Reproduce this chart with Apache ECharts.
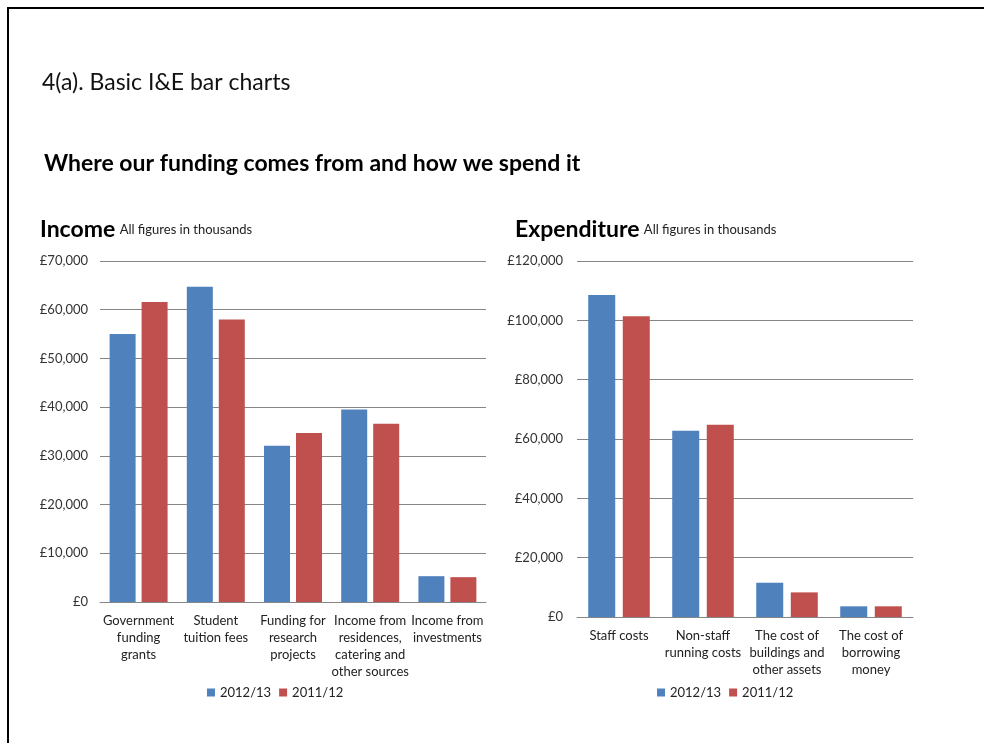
<!DOCTYPE html>
<html>
<head>
<meta charset="utf-8">
<script src="https://cdn.jsdelivr.net/npm/echarts@6/dist/echarts.min.js"></script>
<style>
html,body{margin:0;padding:0;background:#fff;}
#c{width:984px;height:743px;}
</style>
</head>
<body>
<div id="c"></div>
<script>
var seriesNames = ['2012/13', '2011/12'];
var incomeCategories = ['Government\nfunding\ngrants', 'Student\ntuition fees', 'Funding for\nresearch\nprojects', 'Income from\nresidences,\ncatering and\nother sources', 'Income from\ninvestments'];
var income2012 = [55000, 64700, 32100, 39500, 5300];
var income2011 = [61600, 58000, 34700, 36600, 5100];
var expCategories = ['Staff costs', 'Non-staff\nrunning costs', 'The cost of\nbuildings and\nother assets', 'The cost of\nborrowing\nmoney'];
var exp2012 = [108500, 62800, 11550, 3600];
var exp2011 = [101400, 64800, 8300, 3600];

var FONT = 'Lato, "Open Sans", sans-serif';
var BLUE = '#4F81BD', RED = '#C0504D';
var chart = echarts.init(document.getElementById('c'), null, {renderer: 'canvas'});
function money(v){ return '£' + v.toLocaleString('en-GB'); }
var axisLabel = {color: '#333', fontFamily: FONT, fontSize: 13};
var catLabel = {color: '#222', fontFamily: FONT, fontSize: 13, lineHeight: 17, interval: 0, margin: 10};
var legendText = {fontFamily: FONT, fontSize: 13, color: '#222'};
chart.setOption({
  animation: false,
  textStyle: {fontFamily: FONT},
  title: [
    {text: '4(a). Basic I&E bar charts', left: 42, top: 71, padding: 0, textStyle: {fontFamily: FONT, fontSize: 23, fontWeight: 'normal', color: '#111'}},
    {text: 'Where our funding comes from and how we spend it', left: 44, top: 152, padding: 0, textStyle: {fontFamily: FONT, fontSize: 23, fontWeight: 'bold', color: '#000'}},
    {text: '{b|Income} {s|All figures in thousands}', left: 40, top: 218, padding: 0, textStyle: {rich: {b: {fontFamily: FONT, fontSize: 23, fontWeight: 'bold', color: '#000'}, s: {fontFamily: FONT, fontSize: 13, fontWeight: 'normal', color: '#222'}}}},
    {text: '{b|Expenditure} {s|All figures in thousands}', left: 515, top: 218, padding: 0, textStyle: {rich: {b: {fontFamily: FONT, fontSize: 23, fontWeight: 'bold', color: '#000'}, s: {fontFamily: FONT, fontSize: 13, fontWeight: 'normal', color: '#222'}}}}
  ],
  legend: [
    {data: seriesNames, left: 202, top: 681, itemWidth: 8, itemHeight: 8, itemGap: 8, icon: 'rect', textStyle: legendText},
    {data: seriesNames, left: 652, top: 681, itemWidth: 8, itemHeight: 8, itemGap: 8, icon: 'rect', textStyle: legendText}
  ],
  graphic: [
    {type: 'line', shape: {x1: 7, y1: 8, x2: 984, y2: 8}, style: {stroke: '#000', lineWidth: 2}},
    {type: 'line', shape: {x1: 8, y1: 7, x2: 8, y2: 743}, style: {stroke: '#000', lineWidth: 2}}
  ],
  grid: [
    {left: 100, top: 261, width: 386, height: 341},
    {left: 577, top: 261, width: 336, height: 356}
  ],
  xAxis: [
    {type: 'category', gridIndex: 0, data: incomeCategories, axisTick: {show: false}, axisLine: {lineStyle: {color: '#868686'}}, axisLabel: catLabel},
    {type: 'category', gridIndex: 1, data: expCategories, axisTick: {show: false}, axisLine: {lineStyle: {color: '#868686'}}, axisLabel: catLabel}
  ],
  yAxis: [
    {type: 'value', gridIndex: 0, min: 0, max: 70000, interval: 10000, axisLabel: Object.assign({formatter: money, margin: 12}, axisLabel), splitLine: {lineStyle: {color: '#868686'}}, axisLine: {show: false}, axisTick: {show: false}},
    {type: 'value', gridIndex: 1, min: 0, max: 120000, interval: 20000, axisLabel: Object.assign({formatter: money, margin: 14}, axisLabel), splitLine: {lineStyle: {color: '#868686'}}, axisLine: {show: false}, axisTick: {show: false}}
  ],
  series: [
    {name: seriesNames[0], type: 'bar', xAxisIndex: 0, yAxisIndex: 0, data: income2012, itemStyle: {color: BLUE}, barWidth: 26, barGap: '23%'},
    {name: seriesNames[1], type: 'bar', xAxisIndex: 0, yAxisIndex: 0, data: income2011, itemStyle: {color: RED}, barWidth: 26, barGap: '23%'},
    {name: seriesNames[0], type: 'bar', xAxisIndex: 1, yAxisIndex: 1, data: exp2012, itemStyle: {color: BLUE}, barWidth: 27, barGap: '28%'},
    {name: seriesNames[1], type: 'bar', xAxisIndex: 1, yAxisIndex: 1, data: exp2011, itemStyle: {color: RED}, barWidth: 27, barGap: '28%'}
  ]
});
</script>
</body>
</html>
